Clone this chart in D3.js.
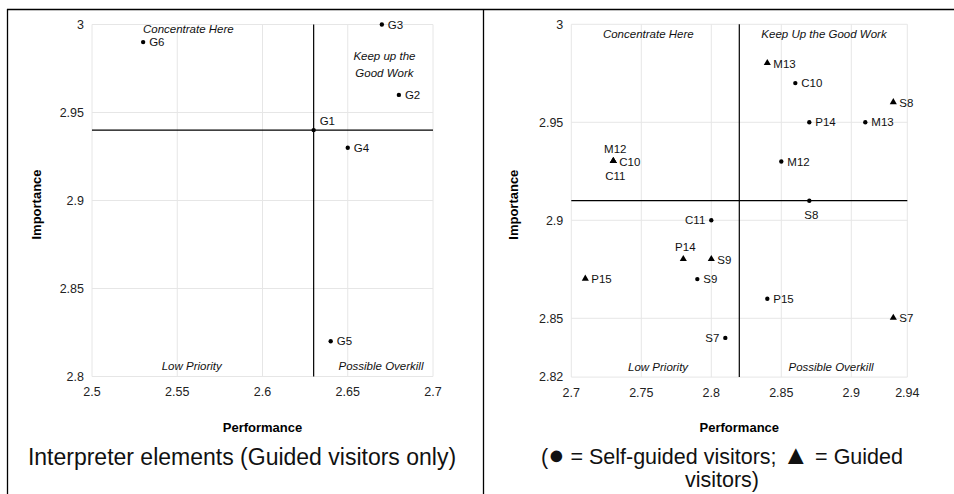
<!DOCTYPE html>
<html>
<head>
<meta charset="utf-8">
<script src="https://cdn.jsdelivr.net/npm/d3@7"></script>
<style>
  html, body { margin: 0; padding: 0; background: #fff; }
  svg { display: block; font-family: "Liberation Sans", Arial, sans-serif; }
</style>
</head>
<body>
<div id="chart"></div>
<script>
// left panel: interpreter elements, guided visitors
const leftNames = ['G1', 'G2', 'G3', 'G4', 'G5', 'G6'];
const leftPerf  = [2.63, 2.68, 2.67, 2.65, 2.64, 2.53];
const leftImp   = [2.94, 2.96, 3.00, 2.93, 2.82, 2.99];
const leftPos   = ['ar', 'r', 'r', 'r', 'r', 'r'];
const leftXTicks = [2.5, 2.55, 2.6, 2.65, 2.7];
const leftYTicks = [2.8, 2.85, 2.9, 2.95, 3];
const leftMean = [2.63, 2.94];

// right panel: self-guided (circle) vs guided (triangle)
const selfNames = ['C10', 'P14', 'M13', 'M12', 'S8', 'C11', 'S9', 'P15', 'S7'];
const selfPerf  = [2.86, 2.87, 2.91, 2.85, 2.87, 2.80, 2.79, 2.84, 2.81];
const selfImp   = [2.97, 2.95, 2.95, 2.93, 2.91, 2.90, 2.87, 2.86, 2.84];
const selfPos   = ['r', 'r', 'r', 'r', 'b', 'l', 'r', 'r', 'l'];

const guidedNames = ['M13', 'S8', 'M12', 'C10', 'C11', 'P14', 'S9', 'P15', 'S7'];
const guidedPerf  = [2.84, 2.93, 2.73, 2.73, 2.73, 2.78, 2.80, 2.71, 2.93];
const guidedImp   = [2.98, 2.96, 2.93, 2.93, 2.93, 2.88, 2.88, 2.87, 2.85];
const guidedPos   = ['r', 'r', 'a', 'r', 'b', 'a', 'r', 'r', 'r'];

const rightXTicks = [2.7, 2.75, 2.8, 2.85, 2.9, 2.94];
const rightYTicks = [2.82, 2.85, 2.9, 2.95, 3];
const rightMean = [2.82, 2.91];

const leftQuadrants = [
  {text: ['Concentrate Here'], x: 2.5565, y: 2.9975},
  {text: ['Keep up the', 'Good Work'], x: 2.6715, y: 2.982},
  {text: ['Low Priority'], x: 2.5585, y: 2.806},
  {text: ['Possible Overkill'], x: 2.6695, y: 2.806}
];
const rightQuadrants = [
  {text: ['Concentrate Here'], x: 2.755, y: 2.995},
  {text: ['Keep Up the Good Work'], x: 2.8805, y: 2.995},
  {text: ['Low Priority'], x: 2.762, y: 2.8253},
  {text: ['Possible Overkill'], x: 2.8855, y: 2.8253}
];

const W = 954, H = 494;
const svg = d3.select('#chart').append('svg')
  .attr('width', W).attr('height', H);

// frame lines
svg.append('line').attr('x1', 7).attr('x2', W).attr('y1', 9.5).attr('y2', 9.5)
  .attr('stroke', '#000').attr('stroke-width', 1.3);
svg.append('line').attr('x1', 7.5).attr('x2', 7.5).attr('y1', 9).attr('y2', H)
  .attr('stroke', '#000').attr('stroke-width', 1.3);
svg.append('line').attr('x1', 483.5).attr('x2', 483.5).attr('y1', 9).attr('y2', H)
  .attr('stroke', '#000').attr('stroke-width', 1.3);

function panel(cfg) {
  const x = d3.scaleLinear().domain(cfg.xDomain).range(cfg.xRange);
  const y = d3.scaleLinear().domain(cfg.yDomain).range(cfg.yRange);
  const g = svg.append('g');

  // grid
  g.selectAll('.gx').data(cfg.xTicks).enter().append('line')
    .attr('x1', d => x(d)).attr('x2', d => x(d))
    .attr('y1', cfg.yRange[1]).attr('y2', cfg.yRange[0])
    .attr('stroke', '#e6e6e6').attr('stroke-width', 1);
  g.selectAll('.gy').data(cfg.yTicks).enter().append('line')
    .attr('y1', d => y(d)).attr('y2', d => y(d))
    .attr('x1', cfg.xRange[0]).attr('x2', cfg.xRange[1])
    .attr('stroke', '#e6e6e6').attr('stroke-width', 1);

  // tick labels
  g.selectAll('.tx').data(cfg.xTicks).enter().append('text')
    .attr('x', d => x(d)).attr('y', cfg.yRange[0] + 19.5)
    .attr('text-anchor', 'middle').attr('font-size', 12.5).attr('fill', '#222')
    .text(d => d);
  g.selectAll('.ty').data(cfg.yTicks).enter().append('text')
    .attr('x', cfg.xRange[0] - 8).attr('y', d => y(d))
    .attr('dy', '0.35em')
    .attr('text-anchor', 'end').attr('font-size', 12.5).attr('fill', '#222')
    .text(d => d);

  // axis titles
  g.append('text')
    .attr('x', (cfg.xRange[0] + cfg.xRange[1]) / 2).attr('y', 431.5)
    .attr('text-anchor', 'middle').attr('font-size', 13).attr('font-weight', 'bold')
    .text('Performance');
  g.append('text')
    .attr('transform', `translate(${cfg.yTitleX},${(cfg.yRange[0] + cfg.yRange[1]) / 2 + 4}) rotate(-90)`)
    .attr('text-anchor', 'middle').attr('font-size', 13).attr('font-weight', 'bold')
    .text('Importance');

  // mean lines
  g.append('line')
    .attr('x1', x(cfg.mean[0])).attr('x2', x(cfg.mean[0]))
    .attr('y1', cfg.yRange[1]).attr('y2', cfg.yRange[0])
    .attr('stroke', '#000').attr('stroke-width', 1.2);
  g.append('line')
    .attr('x1', cfg.xRange[0]).attr('x2', cfg.xRange[1])
    .attr('y1', y(cfg.mean[1])).attr('y2', y(cfg.mean[1]))
    .attr('stroke', '#000').attr('stroke-width', 1.2);

  // quadrant labels
  cfg.quadrants.forEach(q => {
    const t = g.append('text')
      .attr('x', x(q.x)).attr('y', y(q.y))
      .attr('text-anchor', 'middle').attr('font-size', 11.5)
      .attr('font-style', 'italic').attr('fill', '#111');
    q.text.forEach((s, i) => {
      t.append('tspan').attr('x', x(q.x)).attr('dy', i === 0 ? '0.35em' : '1.45em').text(s);
    });
  });

  // points
  cfg.series.forEach(s => {
    const pts = s.names.map((n, i) => ({name: n, px: s.perf[i], py: s.imp[i], pos: s.pos[i]}));
    const sym = d3.symbol().type(s.shape === 'tri' ? d3.symbolTriangle : d3.symbolCircle)
      .size(s.shape === 'tri' ? 22 : 15);
    g.selectAll(null).data(pts).enter().append('path')
      .attr('d', sym)
      .attr('transform', d => `translate(${x(d.px)},${y(d.py) + (s.shape === 'tri' ? -0.5 : 0)})`)
      .attr('fill', '#000');
    g.selectAll(null).data(pts).enter().append('text')
      .attr('font-size', 11.5).attr('fill', '#111')
      .attr('x', d => {
        const cx = x(d.px);
        if (d.pos === 'r') return cx + 6;
        if (d.pos === 'l') return cx - 6;
        if (d.pos === 'ar') return cx + 6;
        return cx + 2;
      })
      .attr('y', d => {
        const cy = y(d.py);
        if (d.pos === 'a') return cy - 13;
        if (d.pos === 'b') return cy + 14;
        if (d.pos === 'ar') return cy - 9;
        return cy;
      })
      .attr('dy', '0.35em')
      .attr('text-anchor', d => d.pos === 'l' ? 'end' : (d.pos === 'a' || d.pos === 'b') ? 'middle' : 'start')
      .text(d => d.name);
  });

  // caption: one text per line; legend glyphs drawn larger
  cfg.caption.forEach((line, i) => {
    const t = g.append('text')
      .attr('text-anchor', 'middle').attr('font-size', cfg.captionSize).attr('fill', '#111')
      .attr('x', cfg.captionX).attr('y', cfg.captionY + i * 23.5);
    line.split(/([\u25CF\u25B2])/).filter(p => p.length).forEach(p => {
      const ts = t.append('tspan').text(p);
      if (p === '\u25CF' || p === '\u25B2') ts.attr('font-size', cfg.captionSize * 1.25);
    });
  });
}

panel({
  xDomain: [2.5, 2.7], xRange: [92, 433],
  yDomain: [2.8, 3.0], yRange: [376.5, 24.5],
  xTicks: leftXTicks, yTicks: leftYTicks, mean: leftMean,
  yTitleX: 41, quadrants: leftQuadrants,
  series: [{names: leftNames, perf: leftPerf, imp: leftImp, pos: leftPos, shape: 'circle'}],
  caption: ['Interpreter elements (Guided visitors only)'], captionX: 242,
  captionSize: 23, captionY: 464.5
});

panel({
  xDomain: [2.7, 2.94], xRange: [571.3, 907.3],
  yDomain: [2.82, 3.0], yRange: [377.1, 24.3],
  xTicks: rightXTicks, yTicks: rightYTicks, mean: rightMean,
  yTitleX: 518, quadrants: rightQuadrants,
  series: [
    {names: selfNames, perf: selfPerf, imp: selfImp, pos: selfPos, shape: 'circle'},
    {names: guidedNames, perf: guidedPerf, imp: guidedImp, pos: guidedPos, shape: 'tri'}
  ],
  caption: ['(\u25CF = Self-guided visitors; \u25B2 = Guided', 'visitors)'], captionX: 722,
  captionSize: 21.5, captionY: 463.5
});
</script>
</body>
</html>
